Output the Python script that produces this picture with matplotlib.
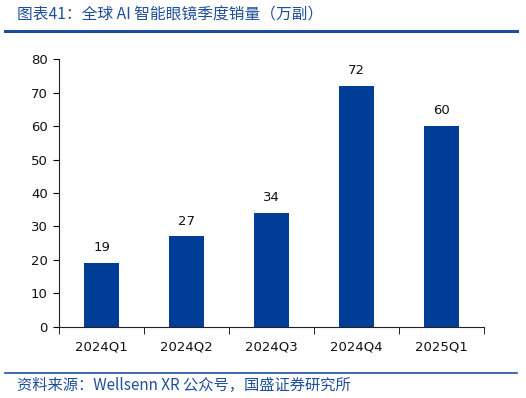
import matplotlib
matplotlib.use("Agg")
import matplotlib.pyplot as plt
from matplotlib.lines import Line2D

plt.rcParams["font.family"] = ["Noto Sans CJK SC", "DejaVu Sans"]

# ====== 資料 ======
quarters = ["2024Q1", "2024Q2", "2024Q3", "2024Q4", "2025Q1"]
sales = [19, 27, 34, 72, 60]   # 萬副
yticks = [0, 10, 20, 30, 40, 50, 60, 70, 80]

title = "图表41：全球 AI 智能眼镜季度销量（万副）"
source = "资料来源：Wellsenn XR 公众号，国盛证券研究所"

bar_color = "#003D96"
text_blue = "#1F4E9A"

fig = plt.figure(figsize=(5.26, 3.98), dpi=100)
ax = fig.add_axes([0.1122, 0.1796, 0.8078, 0.6714])

x = range(len(quarters))
bars = ax.bar(x, sales, width=0.42, color=bar_color)
for xi, v in zip(x, sales):
    ax.text(xi, v + 2.6, f"{v}", ha="center", va="bottom", fontsize=9.5,
            family="DejaVu Sans", color="#111111")

ax.set_xlim(-0.5, len(quarters) - 0.5)
ax.set_ylim(0, 80)
ax.set_yticks(yticks)
ax.set_xticks(list(x))
ax.set_xticklabels(quarters)
# x 軸刻度畫在類別交界處
ax.set_xticks([i - 0.5 for i in range(len(quarters) + 1)], minor=True)
ax.tick_params(axis="x", which="major", length=0, pad=10)
ax.tick_params(axis="x", which="minor", length=5, direction="out")
ax.tick_params(axis="y", length=4, direction="out", pad=4)
for lab in ax.get_xticklabels() + ax.get_yticklabels():
    lab.set_fontfamily("DejaVu Sans")
    lab.set_fontsize(9.5)
    lab.set_color("#111111")

ax.spines["top"].set_visible(False)
ax.spines["right"].set_visible(False)
ax.spines["left"].set_color("#222222")
ax.spines["bottom"].set_color("#222222")

# 標題與分隔線
fig.text(17 / 526, 1 - 15 / 398, title, fontsize=11.3, style="italic",
         color=text_blue, va="center", ha="left")
fig.add_artist(Line2D([5 / 526, 517 / 526], [1 - 30.5 / 398] * 2,
                      color=text_blue, lw=2.2))
fig.add_artist(Line2D([5 / 526, 517 / 526], [1 - 373 / 398] * 2,
                      color=text_blue, lw=1.2))
fig.text(17 / 526, 1 - 385 / 398, source, fontsize=11, style="italic",
         color=text_blue, va="center", ha="left")

fig.savefig("out.png", dpi=100)
